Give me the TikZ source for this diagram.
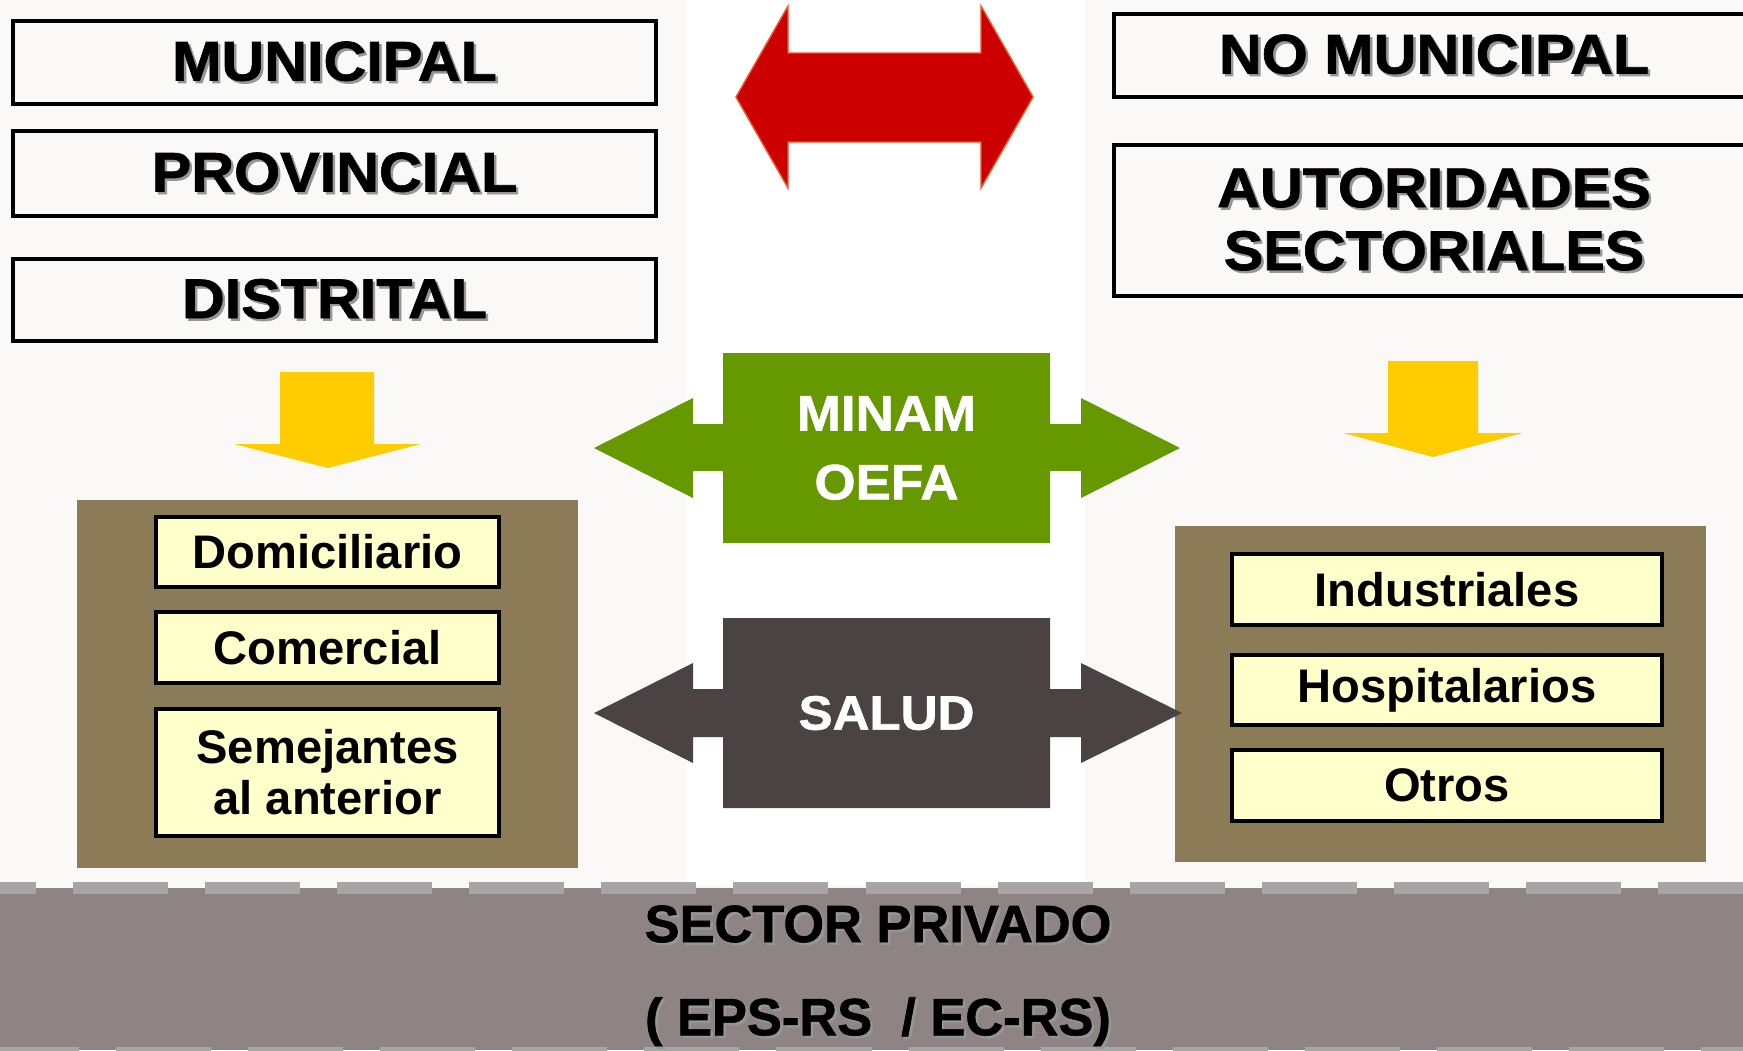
\documentclass[tikz,border=0pt]{standalone}
\usepackage{fontspec}
\setmainfont{Liberation Sans}
\newfontfamily\hv{Liberation Sans}[FakeStretch=1.06,FakeBold=1.2]
\newfontfamily\hvn{Liberation Sans}[FakeBold=1.2]
\definecolor{bgc}{RGB}{250,249,247}
\definecolor{redc}{RGB}{204,0,0}
\definecolor{redline}{RGB}{230,90,40}
\definecolor{yarrow}{RGB}{255,204,0}
\definecolor{greenc}{RGB}{102,153,0}
\definecolor{saludc}{RGB}{74,66,67}
\definecolor{brownc}{RGB}{139,123,87}
\definecolor{ylw}{RGB}{255,255,204}
\definecolor{mauve}{RGB}{143,132,132}
\definecolor{dashg}{RGB}{166,166,166}
\definecolor{shd}{RGB}{150,150,150}
\newcommand\mysh[1]{\leavevmode\rlap{\kern0.7pt\raisebox{-0.7pt}{\color{shd}#1}}#1}
\begin{document}
\begin{tikzpicture}[x=0.01cm, y=-0.01cm,
  hbox/.style={draw=black, line width=1.3pt, fill=bgc, inner sep=0pt, align=center,
    font=\hv\bfseries\fontsize{15.9pt}{17.9pt}\selectfont},
  ybox/.style={draw=black, line width=1pt, fill=ylw, inner sep=0pt, align=center,
    font=\bfseries\fontsize{13.4pt}{14.5pt}\selectfont},
  wtxt/.style={text=white, align=center, inner sep=0pt},
  panel/.style={fill=brownc},
  yarr/.style={fill=yarrow},
  dashline/.style={dashg, line width=0.12cm, dash pattern=on 0.95cm off 0.37cm}
]
\useasboundingbox (0,0) rectangle (1743,1050);
\fill[bgc] (0,0) rectangle (1743,1050);
\fill[white] (687,0) rectangle (1085,885);

% red double arrow
\filldraw[fill=redc, draw=redline, line width=0.4pt] (736,97) -- (788,6) -- (788,53) -- (981,53) -- (981,6) -- (1033,97) -- (981,188) -- (981,142) -- (788,142) -- (788,188) -- cycle;

% heading boxes
\node[hbox, minimum width=6.43cm, minimum height=0.83cm] (mun) at (334.5,62.5) {\mysh{MUNICIPAL}};
\node[hbox, minimum width=6.43cm, minimum height=0.85cm] (prov) at (334.5,173.5) {\mysh{PROVINCIAL}};
\node[hbox, minimum width=6.43cm, minimum height=0.82cm] (dist) at (334.5,300) {\mysh{DISTRITAL}};
\node[hbox, minimum width=6.40cm, minimum height=0.83cm] (nomun) at (1434,55.5) {\mysh{NO MUNICIPAL}};
\node[hbox, minimum width=6.40cm, minimum height=1.51cm] (aut) at (1434,220.5) {\mysh{AUTORIDADES}\\\mysh{SECTORIALES}};

% yellow down arrows
\fill[yarr] (280,372) -- (374,372) -- (374,444) -- (421,444) -- (328,468) -- (234,444) -- (280,444) -- cycle;
\fill[yarr] (1388,361) -- (1478,361) -- (1478,433) -- (1523,433) -- (1433,457) -- (1343,433) -- (1388,433) -- cycle;

% brown panels
\fill[panel] (77,500) rectangle (578,868);
\fill[panel] (1175,526) rectangle (1706,862);

% left items
\node[ybox, minimum width=3.43cm, minimum height=0.70cm] (dom) at (327.5,552) {Domiciliario};
\node[ybox, minimum width=3.43cm, minimum height=0.71cm] (com) at (327.5,647.5) {Comercial};
\node[ybox, minimum width=3.43cm, minimum height=1.27cm] (sem) at (327.5,772.5) {Semejantes\\al anterior};

% right items
\node[ybox, minimum width=4.30cm, minimum height=0.71cm] (ind) at (1447,589.5) {Industriales};
\node[ybox, minimum width=4.30cm, minimum height=0.70cm] (hos) at (1447,690) {Hospitalarios};
\node[ybox, minimum width=4.30cm, minimum height=0.71cm] (otr) at (1447,785.5) {Otros};

% MINAM / OEFA double arrow
\fill[greenc] (594,448) -- (693,398) -- (693,424) -- (723,424) -- (723,353) -- (1050,353) -- (1050,424) -- (1081,424) -- (1081,398) -- (1180,448) -- (1081,498) -- (1081,471) -- (1050,471) -- (1050,543) -- (723,543) -- (723,471) -- (693,471) -- (693,498) -- cycle;
\node[wtxt, font=\hv\bfseries\fontsize{14.2pt}{19.6pt}\selectfont] (minam) at (886.5,448) {MINAM\\OEFA};

% SALUD double arrow
\fill[saludc] (594,713) -- (693,663) -- (693,689) -- (723,689) -- (723,618) -- (1050,618) -- (1050,689) -- (1081,689) -- (1081,663) -- (1182,713) -- (1081,763) -- (1081,737) -- (1050,737) -- (1050,808) -- (723,808) -- (723,737) -- (693,737) -- (693,763) -- cycle;
\node[wtxt, font=\hv\bfseries\fontsize{13.7pt}{16pt}\selectfont] (salud) at (886.5,713) {SALUD};

% bottom band
\fill[mauve] (0,888) rectangle (1743,1050);
\draw[dashline, dash phase=0.59cm] (0,888) -- (1743,888);
\draw[dashline, dash phase=0.16cm] (0,1053) -- (1743,1053);
\node[align=center, inner sep=0pt, font=\hvn\bfseries\fontsize{14.9pt}{26.5pt}\selectfont] (priv) at (878,977) {\mysh{SECTOR PRIVADO}\\\mysh{( EPS-RS~~/ EC-RS)}};
\end{tikzpicture}
\end{document}
